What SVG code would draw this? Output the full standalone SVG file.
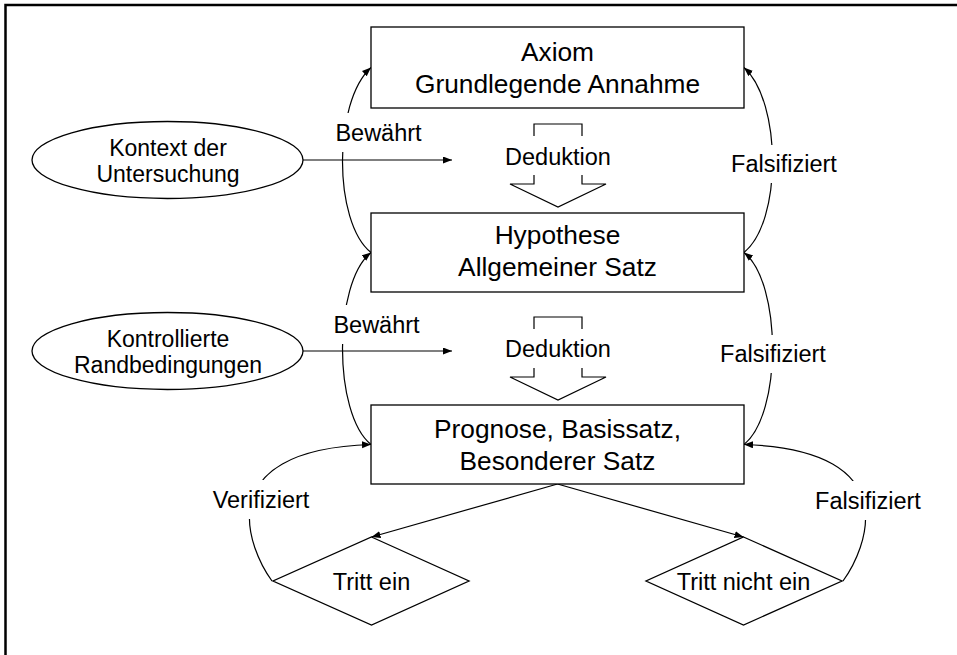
<svg xmlns="http://www.w3.org/2000/svg" width="957" height="655" viewBox="0 0 957 655">
<defs>
<style>
.shape{fill:#fff;stroke:#000;stroke-width:1.3}
.line{fill:none;stroke:#000;stroke-width:1.2}
.t{font-family:"Liberation Sans",Arial,sans-serif;font-size:23.5px;fill:#000;text-anchor:middle}
.b{font-size:26.3px}
.e{font-size:23px}
.bg{fill:#fff;stroke:none}
</style>
<marker id="ah" markerUnits="userSpaceOnUse" markerWidth="10" markerHeight="8" refX="9" refY="3.5" orient="auto">
<path d="M0,0 L9,3.5 L0,7 z" fill="#000"/>
</marker>
</defs>
<rect x="0" y="0" width="957" height="655" fill="#fff"/>
<rect x="5.5" y="5" width="1000" height="1000" fill="none" stroke="#000" stroke-width="2.5"/>

<g id="connectors">
<path class="line" d="M303,160 H452" marker-end="url(#ah)"/>
<path class="line" d="M303,351 H452" marker-end="url(#ah)"/>
<path class="line" d="M371,252.5 C333,222 333,102 371,67.5" marker-end="url(#ah)"/>
<path class="line" d="M371,444.5 C333,414 333,283 371,252.5" marker-end="url(#ah)"/>
<path class="line" d="M744,252.5 C782,222 782,102 744,67.5" marker-end="url(#ah)"/>
<path class="line" d="M744,444.5 C782,414 782,283 744,252.5" marker-end="url(#ah)"/>
<path class="line" d="M272,581 C250,551 205,450 371,444.5" marker-end="url(#ah)"/>
<path class="line" d="M843,581 C865,551 910,450 744,444.5" marker-end="url(#ah)"/>
<path class="line" d="M557.5,484 L371.5,537" marker-end="url(#ah)"/>
<path class="line" d="M557.5,484 L743.5,537" marker-end="url(#ah)"/>
<rect class="bg" x="333" y="113" width="91" height="39"/>
<text class="t" x="378.5" y="140.5">Bewährt</text>
<rect class="bg" x="331" y="305" width="91" height="39"/>
<text class="t" x="376.5" y="333">Bewährt</text>
<rect class="bg" x="729" y="145" width="110" height="38"/>
<text class="t" x="784" y="172">Falsifiziert</text>
<rect class="bg" x="718" y="335" width="110" height="38"/>
<text class="t" x="773" y="362">Falsifiziert</text>
<rect class="bg" x="210" y="480" width="102" height="39"/>
<text class="t" x="261" y="508">Verifiziert</text>
<rect class="bg" x="813" y="481" width="111" height="39"/>
<text class="t" x="868" y="509">Falsifiziert</text>
</g>

<g id="axiom">
<rect class="shape" x="371" y="27" width="373" height="81"/>
<text class="t b" x="557.5" y="60.5">Axiom</text>
<text class="t b" x="557.5" y="92.7">Grundlegende Annahme</text>
</g>
<g id="hypothese">
<rect class="shape" x="371" y="213" width="373" height="79"/>
<text class="t b" x="557.5" y="244">Hypothese</text>
<text class="t b" x="557.5" y="276">Allgemeiner Satz</text>
</g>
<g id="prognose">
<rect class="shape" x="371" y="405" width="373" height="79"/>
<text class="t b" x="557.5" y="438">Prognose, Basissatz,</text>
<text class="t b" x="557.5" y="470">Besonderer Satz</text>
</g>

<g id="deduktion1">
<path class="line" d="M534,136 V124 H582 V136 M534,175 V184 H510 L558,207 L606,184 H582 V175"/>
<text class="t" x="558" y="165">Deduktion</text>
</g>
<g id="deduktion2">
<path class="line" d="M534,329 V317 H582 V329 M534,368 V377 H510 L558,400 L606,377 H582 V368"/>
<text class="t" x="558" y="357">Deduktion</text>
</g>

<g id="kontext">
<ellipse class="shape" cx="167.5" cy="160" rx="135.5" ry="38.5"/>
<text class="t e" x="168" y="155.5">Kontext der</text>
<text class="t e" x="168" y="181.5">Untersuchung</text>
</g>
<g id="randbedingungen">
<ellipse class="shape" cx="167.5" cy="351" rx="135.5" ry="38.5"/>
<text class="t e" x="168" y="347">Kontrollierte</text>
<text class="t e" x="168" y="373">Randbedingungen</text>
</g>

<g id="tritt-ein">
<polygon class="shape" points="371.5,537 469,581 371.5,625 273,581"/>
<text class="t" x="371.5" y="590">Tritt ein</text>
</g>
<g id="tritt-nicht-ein">
<polygon class="shape" points="743.5,537 842,581 743.5,625 646,581"/>
<text class="t" x="743.5" y="590">Tritt nicht ein</text>
</g>
</svg>
